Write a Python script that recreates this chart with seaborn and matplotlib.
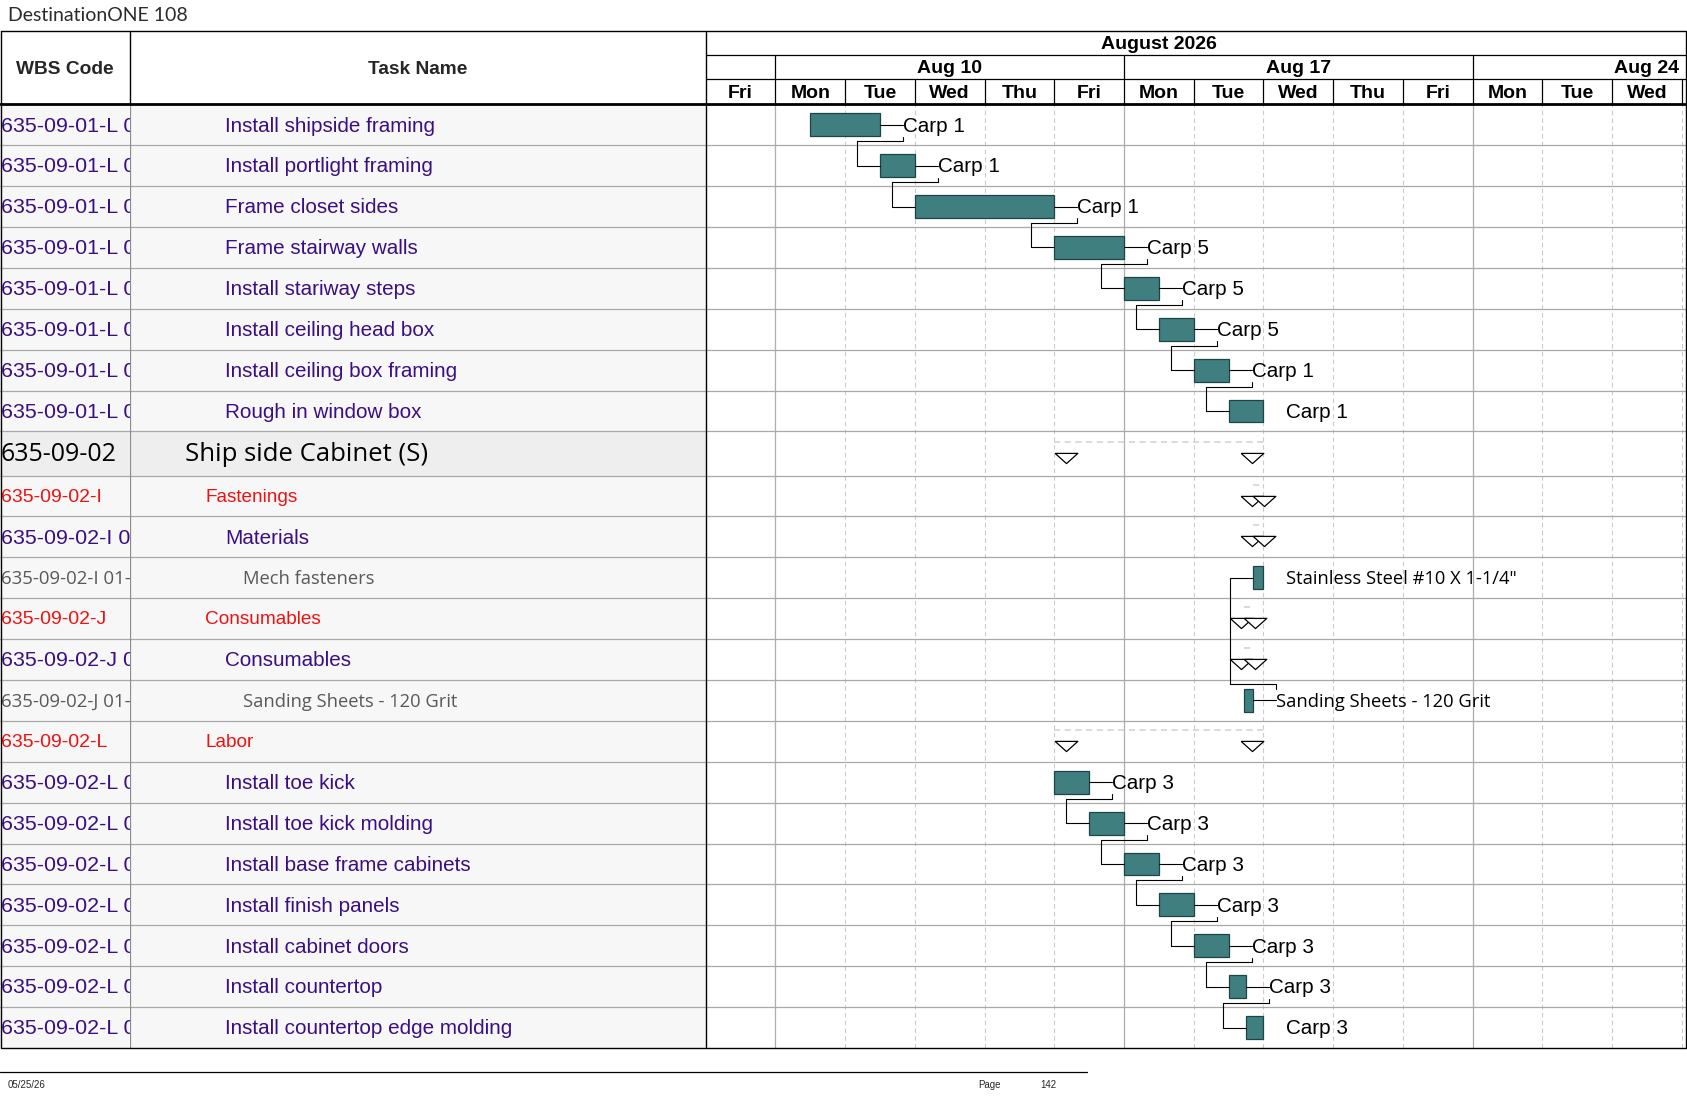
"""
Gantt page re-draw: DestinationONE 108, ship side cabinet tasks.
Left table (WBS / task name) + working-day timescale with bars,
summary triangles and finish-to-start links.
"""

import numpy as np
import matplotlib
matplotlib.use("Agg")
import matplotlib.pyplot as plt
from matplotlib.patches import Rectangle
import seaborn as sns

# ── Data ─────────────────────────────────────────────────────────────────────
wbs_codes = [
    "635-09-01-L 01", "635-09-01-L 02", "635-09-01-L 03", "635-09-01-L 04",
    "635-09-01-L 05", "635-09-01-L 06", "635-09-01-L 07", "635-09-01-L 08",
    "635-09-02",
    "635-09-02-I", "635-09-02-I 01", "635-09-02-I 01-01",
    "635-09-02-J", "635-09-02-J 01", "635-09-02-J 01-01",
    "635-09-02-L", "635-09-02-L 01", "635-09-02-L 02", "635-09-02-L 03",
    "635-09-02-L 04", "635-09-02-L 05", "635-09-02-L 06", "635-09-02-L 07",
]
task_names = [
    "Install shipside framing", "Install portlight framing", "Frame closet sides",
    "Frame stairway walls", "Install stariway steps", "Install ceiling head box",
    "Install ceiling box framing", "Rough in window box",
    "Ship side Cabinet (S)",
    "Fastenings", "Materials", "Mech fasteners",
    "Consumables", "Consumables", "Sanding Sheets - 120 Grit",
    "Labor", "Install toe kick", "Install toe kick molding",
    "Install base frame cabinets", "Install finish panels", "Install cabinet doors",
    "Install countertop", "Install countertop edge molding",
]
row_kinds = (["task"] * 8 + ["group"] + ["phase", "sub", "item"] * 2
             + ["phase"] + ["task"] * 7)

# working days counted from Fri Aug 7 (0.0 = start of that day)
starts = [1.5, 2.5, 3.0, 5.0, 6.0, 6.5, 7.0, 7.5,
          5.0,
          7.85, 7.85, 7.85,
          7.72, 7.72, 7.72,
          5.0, 5.0, 5.5, 6.0, 6.5, 7.0, 7.5, 7.75]
finishes = [2.5, 3.0, 5.0, 6.0, 6.5, 7.0, 7.5, 8.0,
            8.0,
            8.0, 8.0, 8.0,
            7.85, 7.85, 7.85,
            8.0, 5.5, 6.0, 6.5, 7.0, 7.5, 7.75, 8.0]
resource_labels = (["Carp 1"] * 3 + ["Carp 5"] * 3 + ["Carp 1"] * 2
                   + ["", "", "", 'Stainless Steel #10 X 1-1/4"',
                      "", "", "Sanding Sheets - 120 Grit", ""]
                   + ["Carp 3"] * 7)

# (predecessor row, successor row)
links = [(0, 1), (1, 2), (2, 3), (3, 4), (4, 5), (5, 6), (6, 7),
         (14, 11),
         (16, 17), (17, 18), (18, 19), (19, 20), (20, 21), (21, 22)]

# timescale
day_names = ["Fri", "Mon", "Tue", "Wed", "Thu", "Fri", "Mon",
             "Tue", "Wed", "Thu", "Fri", "Mon", "Tue", "Wed"]
week_labels = ["Aug 3", "Aug 10", "Aug 17", "Aug 24"]
week_starts = [-4, 1, 6, 11]
month_label = "August 2026"
month_span = (-4, 17)

# ── Look ─────────────────────────────────────────────────────────────────────
ARIAL = "Liberation Sans"
CALIBRI = "Open Sans"
PURPLE = "#3A0E84"
RED = "#EE1111"
GRAY_TXT = "#595959"
TEAL = "#3F7F80"
TEAL_EDGE = "#1E4545"
ROW_LINE = "#A8A8A8"
CELL_BG = "#F7F7F7"
GROUP_BG = "#EEEEEE"

STYLE = {
    "task":  dict(color=PURPLE, family=ARIAL, size=14.9, wsize=15.4, indent=88),
    "sub":   dict(color=PURPLE, family=ARIAL, size=14.9, wsize=15.4, indent=88),
    "phase": dict(color=RED, family=ARIAL, size=13.7, wsize=14.0, indent=70),
    "item":  dict(color=GRAY_TXT, family=CALIBRI, size=13.2, wsize=13.4, indent=105),
    "group": dict(color="black", family=CALIBRI, size=18.5, wsize=18.0, indent=51),
}

# page geometry (in pixels of a 1568 x 1019.5 page)
W_PAGE, H_PAGE = 1568.0, 1019.5
X_TASK, X_CHART, X_RIGHT = 121, 656, 1567
Y_TOP, Y_MONTH, Y_WEEK, Y_HDR, Y_BOT = 29, 51, 73, 97, 974
DAY_PX = 64.79
X_DAYS = (X_RIGHT - X_CHART) / DAY_PX
GROUP_H = 41 / 38
BAR_H = 0.56
OFFS = 0.33          # leader / link jog, in days
WBS_CLIP = 116.5     # cell padding: codes are cut a little before the border


def frac(x0, y0, x1, y1):
    return [x0 / W_PAGE, 1 - y1 / H_PAGE, (x1 - x0) / W_PAGE, (y1 - y0) / H_PAGE]


sns.set_theme(style="white")
plt.rcParams["font.family"] = [ARIAL, "DejaVu Sans"]

fig = plt.figure(figsize=(16.87, 10.97), dpi=100)
fig.patch.set_facecolor("white")

heights = np.array([GROUP_H if k == "group" else 1.0 for k in row_kinds])
edges = np.concatenate([[0], np.cumsum(heights)])
centers = (edges[:-1] + edges[1:]) / 2
total = edges[-1]

ax_wbs = fig.add_axes(frac(0, Y_HDR, X_TASK, Y_BOT))
ax_task = fig.add_axes(frac(X_TASK, Y_HDR, X_CHART, Y_BOT))
ax_g = fig.add_axes(frac(X_CHART, Y_HDR, X_RIGHT, Y_BOT))
ax_h = fig.add_axes(frac(X_CHART, Y_TOP, X_RIGHT, Y_HDR))
ax_page = fig.add_axes([0, 0, 1, 1])
ax_page.set_zorder(10)

for ax in (ax_wbs, ax_task, ax_g):
    ax.set_ylim(total, 0)
    ax.axis("off")
ax_wbs.set_xlim(0, X_TASK)
ax_task.set_xlim(0, X_CHART - X_TASK)

# ── Left table ───────────────────────────────────────────────────────────────
wbs_clip = Rectangle((0, 0), WBS_CLIP, total, transform=ax_wbs.transData,
                     fill=False, lw=0)
for i, kind in enumerate(row_kinds):
    bg = GROUP_BG if kind == "group" else CELL_BG
    st = STYLE[kind]
    for ax in (ax_wbs, ax_task):
        ax.axhspan(edges[i], edges[i + 1], color=bg, lw=0, zorder=0)
    t = ax_wbs.text(1, centers[i] + 0.03, wbs_codes[i], ha="left", va="center",
                    color=st["color"], family=st["family"], fontsize=st["wsize"])
    t.set_clip_path(wbs_clip)
    ax_task.text(st["indent"], centers[i] + 0.03, task_names[i], ha="left",
                 va="center", color=st["color"], family=st["family"],
                 fontsize=st["size"], clip_on=True)

for ax in (ax_wbs, ax_task, ax_g):
    for e in edges[1:-1]:
        ax.axhline(e, color=ROW_LINE, lw=0.9, zorder=1)
ax_task.axvline(0, color="#8C8C8C", lw=0.9, zorder=2)

# ── Gantt body ───────────────────────────────────────────────────────────────
ax_g.set_xlim(0, X_DAYS)
for b in range(1, len(day_names) + 1):
    if b in week_starts:
        ax_g.axvline(b, color="#ADADAD", lw=0.9, zorder=0.5)
    else:
        ax_g.axvline(b, color="#CBCBCB", lw=0.8, ls=(0, (4, 3)), zorder=0.5)

bar_rows = [i for i, k in enumerate(row_kinds) if k in ("task", "item")]
ax_g.barh([centers[i] for i in bar_rows],
          [finishes[i] - starts[i] for i in bar_rows],
          left=[starts[i] for i in bar_rows], height=BAR_H,
          color=TEAL, edgecolor=TEAL_EDGE, linewidth=0.9, zorder=3)

# summary rows: dashed span line + open triangles
sum_rows = [i for i, k in enumerate(row_kinds) if k in ("group", "phase", "sub")]
for i in sum_rows:
    ax_g.plot([starts[i], finishes[i]], [centers[i] - 0.28] * 2,
              color="#CFCFCF", lw=1.1, ls=(0, (4, 3)), zorder=2)

tri = [(-1, 0.45), (1, 0.45), (0, -0.45), (-1, 0.45)]
tri_x, tri_y = [], []
for i in sum_rows:
    tri_x += [finishes[i] - OFFS / 2, starts[i] + OFFS / 2]
    tri_y += [centers[i] + 0.11, centers[i] + 0.11]
sns.scatterplot(x=tri_x, y=tri_y, marker=tri, s=265, color="white",
                edgecolor="black", linewidth=0.9, ax=ax_g, zorder=4,
                legend=False)

# resource labels
for i in bar_rows:
    if resource_labels[i]:
        fam = CALIBRI if row_kinds[i] == "item" else ARIAL
        size = 13.2 if row_kinds[i] == "item" else 14.9
        ax_g.text(finishes[i] + OFFS, centers[i] + 0.03, resource_labels[i],
                  ha="left", va="center", family=fam, fontsize=size,
                  color="black", zorder=5)

# finish-to-start links (leader to label, jog, then into successor)
for p, q in links:
    yp, yq = centers[p], centers[q]
    lx = finishes[p] + OFFS
    sign = 1 if yq > yp else -1
    ax_g.plot([finishes[p], lx], [yp, yp], color="black", lw=0.8, zorder=3)
    ymid = yp + sign * 0.40
    tx = starts[q] - OFFS
    ax_g.plot([lx, lx, tx, tx, starts[q]],
              [yp + sign * (BAR_H / 2 + 0.01), ymid, ymid, yq, yq],
              color="black", lw=0.8, zorder=3)
ax_g.set_ylim(total, 0)
ax_g.set_xlim(0, X_DAYS)

# ── Timescale header ─────────────────────────────────────────────────────────
ax_h.set_xlim(0, X_DAYS)
ax_h.set_ylim(Y_HDR, Y_TOP)
ax_h.axis("off")
ax_h.hlines([Y_MONTH, Y_WEEK], 0, X_DAYS, color="black", lw=0.9)
ax_h.vlines([w for w in week_starts if 0 < w < X_DAYS], Y_MONTH, Y_WEEK,
            color="black", lw=0.9)
ax_h.vlines(np.arange(1, len(day_names) + 1), Y_WEEK, Y_HDR, color="black", lw=0.9)
hdr_font = dict(family=ARIAL, fontsize=14, fontweight="bold", color="black",
                ha="center", va="center", clip_on=True)
ax_h.text(sum(month_span) / 2, (Y_TOP + Y_MONTH) / 2 + 1.5, month_label, **hdr_font)
for lab, ws in zip(week_labels, week_starts):
    ax_h.text(ws + 2.5, (Y_MONTH + Y_WEEK) / 2 + 1.5, lab, **hdr_font)
for d, name in enumerate(day_names):
    ax_h.text(d + 0.5, (Y_WEEK + Y_HDR) / 2 + 1.5, name, **hdr_font)

# ── Page frame, title, footer ────────────────────────────────────────────────
ax_page.set_xlim(0, W_PAGE)
ax_page.set_ylim(H_PAGE, 0)
ax_page.axis("off")
k = dict(color="black", lw=1.0)
ax_page.plot([0.6, X_RIGHT, X_RIGHT, 0.6, 0.6],
             [Y_TOP, Y_TOP, Y_BOT, Y_BOT, Y_TOP], **k)
ax_page.plot([0, X_RIGHT], [Y_HDR, Y_HDR], color="black", lw=2.0)
ax_page.plot([X_TASK, X_TASK], [Y_TOP, Y_HDR], **k)
ax_page.plot([X_CHART, X_CHART], [Y_TOP, Y_BOT], **k)

ax_page.text(X_TASK / 2, (Y_TOP + Y_HDR) / 2 + 1.5, "WBS Code", ha="center",
             va="center", family=ARIAL, fontsize=13.8, fontweight="bold")
ax_page.text((X_TASK + X_CHART) / 2, (Y_TOP + Y_HDR) / 2 + 1.5, "Task Name",
             ha="center", va="center", family=ARIAL, fontsize=13.8,
             fontweight="bold")
ax_page.text(7, 14, "DestinationONE 108", ha="left", va="center",
             family=["Lato", "DejaVu Sans"], fontweight="normal", fontsize=14,
             color="#2A2A2A")

ax_page.plot([0, 1010], [996, 996], color="black", lw=0.9)
ax_page.text(7, 1008, "05/25/26", ha="left", va="center", family=ARIAL, fontsize=7)
ax_page.text(909, 1008, "Page", ha="left", va="center", family=ARIAL, fontsize=7)
ax_page.text(967, 1008, "142", ha="left", va="center", family=ARIAL, fontsize=7)

fig.savefig("out.png", dpi=100, facecolor="white")
